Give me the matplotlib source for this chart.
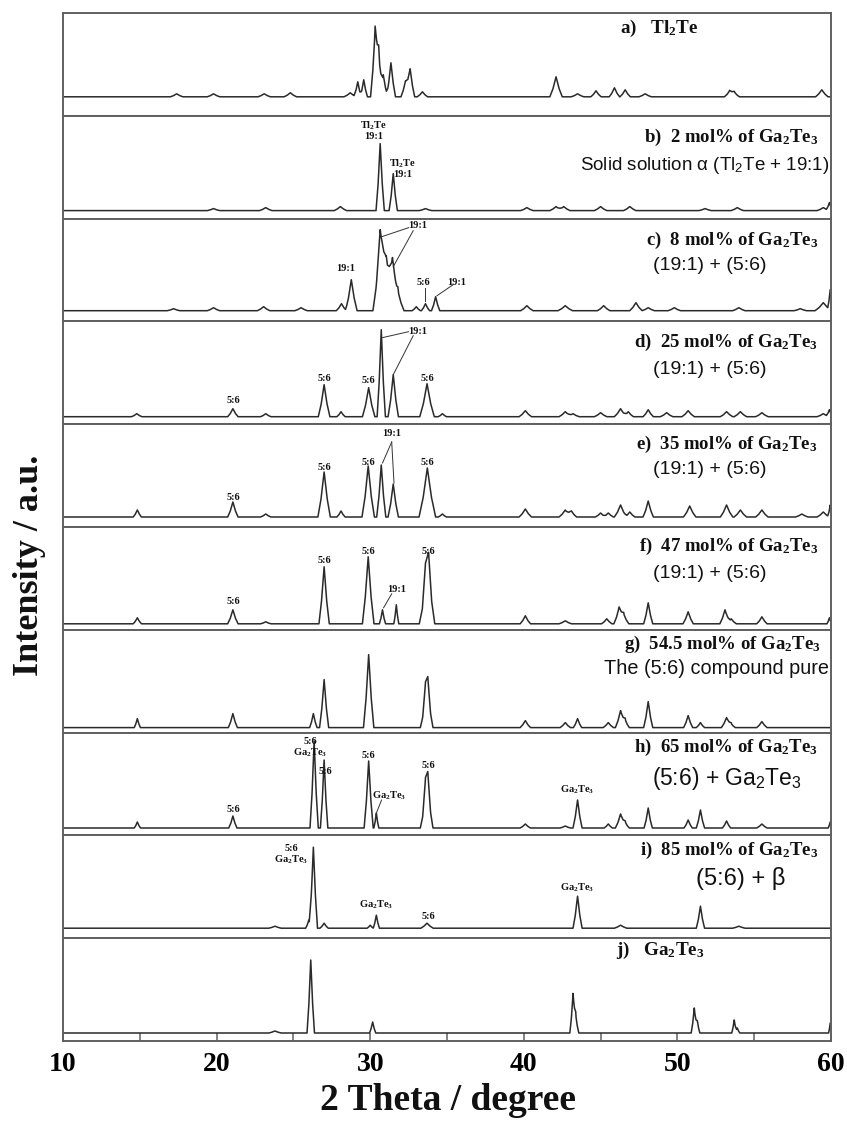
import numpy as np
import matplotlib
matplotlib.use('Agg')
import matplotlib.pyplot as plt

plt.rcParams['mathtext.fontset'] = 'custom'
plt.rcParams['mathtext.rm'] = 'Liberation Serif:bold'
plt.rcParams['mathtext.it'] = 'Liberation Serif:bold'
plt.rcParams['mathtext.bf'] = 'Liberation Serif:bold'
plt.rcParams['mathtext.sf'] = 'Liberation Sans'

# ---------------- data (2theta in degree, intensity in a.u.) ----------------
x_range = [10, 60]
x_major = [10, 20, 30, 40, 50, 60]
x_minor = [15, 25, 35, 45, 55]

# a) Tl2Te
pos_a = [17.4, 19.8, 23.1, 24.8, 28.7, 29.19, 29.58, 30.32, 30.55, 30.85, 31.35, 32.3, 32.6, 33.4,
         42.1, 43.5, 44.7, 45.9, 46.6, 47.9, 53.4, 53.7, 59.4]
int_a = [3, 3, 3, 4, 4, 15, 17, 66, 40, 22, 34, 16, 28, 5,
         20, 3, 6, 9, 7, 3, 6, 5, 7]
wid_a = [0.3, 0.3, 0.3, 0.3, 0.3, 0.18, 0.18, 0.22, 0.2, 0.22, 0.22, 0.22, 0.22, 0.25,
         0.3, 0.3, 0.25, 0.25, 0.25, 0.3, 0.25, 0.25, 0.3]
# b) 2 mol%
pos_b = [19.8, 23.2, 28.06, 30.65, 31.5, 33.6, 40.2, 42.1, 42.6, 45.0, 46.9, 51.8, 53.9, 59.5, 59.9]
int_b = [2, 3, 4, 67, 37, 2, 3, 4, 4, 4, 4, 2, 3, 3, 8]
wid_b = [0.3, 0.3, 0.3, 0.2, 0.2, 0.3, 0.3, 0.3, 0.3, 0.3, 0.3, 0.3, 0.3, 0.3, 0.15]
# c) 8 mol%
pos_c = [17.2, 19.8, 23.06, 25.5, 28.13, 28.77, 30.65, 31.05, 31.45, 31.8, 33.0, 33.6, 34.26,
         40.2, 42.7, 45.2, 47.3, 48.1, 49.8, 54.0, 58.0, 59.5, 59.95]
int_c = [2, 3, 4, 3, 7, 31, 66, 46, 36, 20, 4, 7, 14,
         5, 5, 5, 8, 3, 3, 3, 2, 8, 20]
wid_c = [0.3, 0.3, 0.3, 0.3, 0.25, 0.28, 0.35, 0.5, 0.3, 0.3, 0.2, 0.2, 0.2,
         0.3, 0.35, 0.3, 0.3, 0.3, 0.3, 0.3, 0.3, 0.4, 0.12]
# d) 25 mol%
pos_d = [14.8, 21.06, 23.2, 27.0, 28.1, 29.9, 30.72, 31.5, 33.7, 34.7, 40.1, 42.7, 43.2, 45.0,
         46.3, 46.8, 48.1, 49.3, 50.7, 53.2, 54.1, 55.5, 59.5, 59.9]
int_d = [3, 8, 3, 32, 5, 29, 87, 42, 33, 3, 6, 5, 3, 4,
         8, 5, 7, 4, 6, 5, 5, 4, 3, 7]
wid_d = [0.25, 0.25, 0.25, 0.28, 0.2, 0.3, 0.2, 0.25, 0.35, 0.2, 0.3, 0.3, 0.3, 0.3,
         0.3, 0.25, 0.25, 0.3, 0.3, 0.3, 0.3, 0.3, 0.3, 0.15]
# e) 35 mol%
pos_e = [14.84, 21.06, 23.2, 27.0, 28.1, 29.87, 30.72, 31.5, 33.72, 34.7, 40.1, 42.7, 43.1, 45.0,
         45.5, 46.3, 46.9, 48.1, 50.8, 53.2, 54.1, 55.5, 58.1, 59.5, 59.95]
int_e = [7, 15, 3, 45, 6, 51, 52, 33, 49, 3, 8, 7, 6, 4,
         4, 12, 5, 16, 11, 12, 7, 7, 3, 5, 12]
wid_e = [0.2, 0.25, 0.25, 0.3, 0.2, 0.3, 0.22, 0.25, 0.4, 0.2, 0.3, 0.3, 0.25, 0.25,
         0.25, 0.3, 0.25, 0.25, 0.3, 0.3, 0.3, 0.3, 0.3, 0.3, 0.12]
# f) 47 mol%
pos_f = [14.84, 21.06, 23.2, 27.0, 29.87, 30.8, 31.7, 33.6, 33.8, 40.1, 42.7, 45.4, 46.2, 46.5,
         48.1, 50.7, 53.1, 53.5, 55.5, 59.9]
int_f = [6, 14, 2, 57, 67, 14, 19, 38, 56, 8, 3, 5, 16, 10,
         21, 12, 14, 5, 7, 6]
wid_f = [0.2, 0.25, 0.25, 0.25, 0.28, 0.15, 0.12, 0.3, 0.3, 0.25, 0.3, 0.25, 0.25, 0.25,
         0.22, 0.25, 0.25, 0.25, 0.25, 0.12]
# g) 54.5 mol%
pos_g = [14.84, 21.06, 26.3, 27.0, 29.9, 33.6, 33.75, 40.1, 42.7, 43.5, 45.5, 46.3, 46.6,
         48.1, 50.7, 51.5, 53.2, 53.5, 55.5]
int_g = [9, 14, 14, 48, 73, 28, 38, 7, 5, 9, 5, 17, 8,
         26, 12, 5, 10, 4, 6]
wid_g = [0.15, 0.22, 0.18, 0.22, 0.25, 0.25, 0.25, 0.25, 0.25, 0.2, 0.25, 0.25, 0.2,
         0.22, 0.22, 0.2, 0.25, 0.2, 0.25]
# h) 65 mol%
pos_h = [14.84, 21.06, 26.35, 27.0, 29.9, 30.4, 33.6, 33.75, 40.1, 42.7, 43.5, 45.5, 46.3, 46.6,
         48.1, 50.7, 51.5, 53.2, 55.5, 59.95]
int_h = [6, 12, 87, 68, 67, 15, 31, 42, 4, 2, 28, 4, 14, 6,
         20, 8, 18, 7, 4, 6]
wid_h = [0.15, 0.2, 0.2, 0.18, 0.22, 0.12, 0.25, 0.25, 0.25, 0.25, 0.22, 0.2, 0.25, 0.2,
         0.2, 0.2, 0.2, 0.2, 0.25, 0.1]
# i) 85 mol%
pos_i = [23.8, 26.0, 26.3, 27.0, 30.0, 30.4, 33.7, 43.5, 46.3, 51.5, 54.0]
int_i = [2, 8, 81, 5, 3, 13, 5, 32, 3, 22, 2]
wid_i = [0.3, 0.15, 0.2, 0.2, 0.15, 0.15, 0.3, 0.22, 0.3, 0.2, 0.3]
# j) Ga2Te3
pos_j = [23.8, 26.13, 30.16, 43.2, 43.38, 51.1, 51.3, 53.7, 53.9, 59.95]
int_j = [2, 73, 11, 38, 18, 25, 12, 13, 5, 10]
wid_j = [0.3, 0.18, 0.15, 0.15, 0.15, 0.15, 0.12, 0.12, 0.12, 0.08]

titles = [r"a)   Tl$_2$Te",
          r"b)  2 mol% of Ga$_2$Te$_3$",
          r"c)  8 mol% of Ga$_2$Te$_3$",
          r"d)  25 mol% of Ga$_2$Te$_3$",
          r"e)  35 mol% of Ga$_2$Te$_3$",
          r"f)  47 mol% of Ga$_2$Te$_3$",
          r"g)  54.5 mol% of Ga$_2$Te$_3$",
          r"h)  65 mol% of Ga$_2$Te$_3$",
          r"i)  85 mol% of Ga$_2$Te$_3$",
          r"j)   Ga$_2$Te$_3$"]
phases = [None,
          r"Solid solution α (Tl$_\mathsf{2}$Te + 19:1)",
          "(19:1) + (5:6)",
          "(19:1) + (5:6)",
          "(19:1) + (5:6)",
          "(19:1) + (5:6)",
          "The (5:6) compound pure",
          r"(5:6) + Ga$_\mathsf{2}$Te$_\mathsf{3}$",
          "(5:6) + β",
          None]

patterns = [(pos_a, int_a, wid_a), (pos_b, int_b, wid_b), (pos_c, int_c, wid_c),
            (pos_d, int_d, wid_d), (pos_e, int_e, wid_e), (pos_f, int_f, wid_f),
            (pos_g, int_g, wid_g), (pos_h, int_h, wid_h), (pos_i, int_i, wid_i),
            (pos_j, int_j, wid_j)]

GT = r"Ga$_2$Te$_3$"
# peak labels: (panel, 2theta, intensity, text)
peak_labels = [
    (1, 30.2, 80, "Tl$_2$Te\n19:1"), (1, 32.1, 42, "Tl$_2$Te\n19:1"),
    (2, 28.4, 42, "19:1"), (2, 33.1, 85, "19:1"), (2, 33.45, 28, "5:6"), (2, 35.6, 28, "19:1"),
    (3, 21.1, 16, "5:6"), (3, 27.0, 38, "5:6"), (3, 29.9, 36, "5:6"), (3, 33.1, 85, "19:1"),
    (3, 33.75, 38, "5:6"),
    (4, 21.1, 20, "5:6"), (4, 27.0, 50, "5:6"), (4, 29.87, 55, "5:6"), (4, 31.4, 83, "19:1"),
    (4, 33.75, 55, "5:6"),
    (5, 21.1, 22, "5:6"), (5, 27.0, 63, "5:6"), (5, 29.9, 72, "5:6"), (5, 31.75, 34, "19:1"),
    (5, 33.8, 72, "5:6"),
    (7, 21.1, 18, "5:6"), (7, 26.1, 80, "5:6\n" + GT), (7, 27.05, 56, "5:6"), (7, 29.9, 73, "5:6"),
    (7, 31.2, 32, GT), (7, 33.8, 62, "5:6"), (7, 43.5, 38, GT),
    (8, 24.85, 73, "5:6\n" + GT), (8, 30.4, 23, GT), (8, 33.8, 12, "5:6"), (8, 43.5, 40, GT),
]
# leader lines: (panel, x0, y0, x1, y1)
leaders = [
    (2, 30.75, 74, 32.5, 83), (2, 31.5, 44, 32.8, 80),
    (2, 33.6, 23, 33.6, 10), (2, 35.4, 26, 34.35, 15),
    (3, 30.78, 79, 32.5, 85), (3, 31.5, 42, 32.8, 81),
    (4, 31.4, 75, 30.8, 54), (4, 31.4, 75, 31.55, 34),
    (5, 31.4, 30, 30.87, 16),
    (7, 30.74, 28, 30.35, 13),
]

# ---------------- layout ----------------
W, H = 847, 1123
fig = plt.figure(figsize=(W / 100, H / 100), dpi=100)
LEFT, RIGHT, TOP, BOT = 63, 831, 13, 1041
PH = (BOT - TOP) / 10.0
base_off = [19, 8, 10.7, 7.5, 10, 6, 5, 7.4, 10, 8]

WIDTH_SCALE = 1.35
SHAPE_OFF = np.array([-1.0, -0.5, 0.0, 0.5, 1.0])
SHAPE_FRAC = np.array([0.0, 0.4, 1.0, 0.4, 0.0])


def build_curve(pos, inten, wid):
    xs = [np.array(x_range, float)]
    for p, w in zip(pos, wid):
        xs.append(p + SHAPE_OFF * w * WIDTH_SCALE)
    xs = np.unique(np.clip(np.concatenate(xs), x_range[0], x_range[1]))
    ys = np.zeros_like(xs)
    for p, h, w in zip(pos, inten, wid):
        ys += np.interp(xs, p + SHAPE_OFF * w * WIDTH_SCALE, h * SHAPE_FRAC, left=0, right=0)
    return xs, ys


def fx(x):
    return x / W


def fy(y):
    return 1 - y / H


frame_col = '#606060'
line_col = '#2a2a2a'
axes = []
for k in range(10):
    top_px = TOP + k * PH
    ax = fig.add_axes([fx(LEFT), fy(top_px + PH), fx(RIGHT) - fx(LEFT), PH / H])
    xs, ys = build_curve(*patterns[k])
    ax.plot(xs, ys, color=line_col, lw=1.1)
    ax.set_xlim(*x_range)
    ax.set_ylim(-base_off[k], PH - base_off[k])
    ax.set_yticks([])
    for s in ax.spines.values():
        s.set_color(frame_col)
        s.set_linewidth(1.4)
    if k < 9:
        ax.tick_params(axis='x', bottom=False, labelbottom=False)
    else:
        ax.set_xticks(x_major)
        ax.set_xticks(x_minor, minor=True)
        ax.tick_params(axis='x', which='both', direction='in', length=6, width=1.1,
                       color=frame_col, pad=8)
        for lab in ax.get_xticklabels():
            lab.set_fontfamily('Liberation Serif')
            lab.set_fontweight('bold')
            lab.set_fontsize(20)
    axes.append(ax)

for (k, x, y, t) in peak_labels:
    axes[k].text(x, y, t, ha='center', va='center', fontsize=7.5, fontweight='bold',
                 family='Liberation Serif', linespacing=1.0, color='#111111')
for (k, x0, y0, x1, y1) in leaders:
    axes[k].plot([x0, x1], [y0, y1], color='#333333', lw=0.7)

# panel titles (bold serif) and phase notes (sans)
title_pos = [(620, 28, 'left'), (818, 137, 'right'), (818, 240, 'right'), (818, 342, 'right'),
             (818, 444, 'right'), (818, 546, 'right'), (821, 644, 'right'), (818, 747, 'right'),
             (818, 850, 'right'), (616, 950, 'left')]
phase_pos = [None, (829, 165, 'right'), (710, 266, 'center'), (710, 369, 'center'),
             (710, 470, 'center'), (710, 573, 'center'), (829, 668, 'right'),
             (727, 778, 'center'), (741, 879, 'center'), None]
phase_size = [0, 13.5, 14, 14, 14, 14, 14.3, 16.5, 17, 0]
for k in range(10):
    x, y, ha = title_pos[k]
    fig.text(fx(x), fy(y), titles[k], ha=ha, va='center', fontsize=13.8 if k in (0, 9) else 13.5,
             fontweight='bold', family='Liberation Serif', color='#111111')
    if phases[k] is not None:
        x, y, ha = phase_pos[k]
        fig.text(fx(x), fy(y), phases[k], ha=ha, va='center', fontsize=phase_size[k],
                 family='Liberation Sans', color='#111111')

fig.text(fx(448), fy(1101), "2 Theta / degree", ha='center', va='center', fontsize=27,
         fontweight='bold', family='Liberation Serif', color='#111111')
fig.text(fx(30), fy(565), "Intensity / a.u.", ha='center', va='center', rotation=90,
         fontsize=26, fontweight='bold', family='Liberation Serif', color='#111111')

fig.savefig('out.png', dpi=100)
